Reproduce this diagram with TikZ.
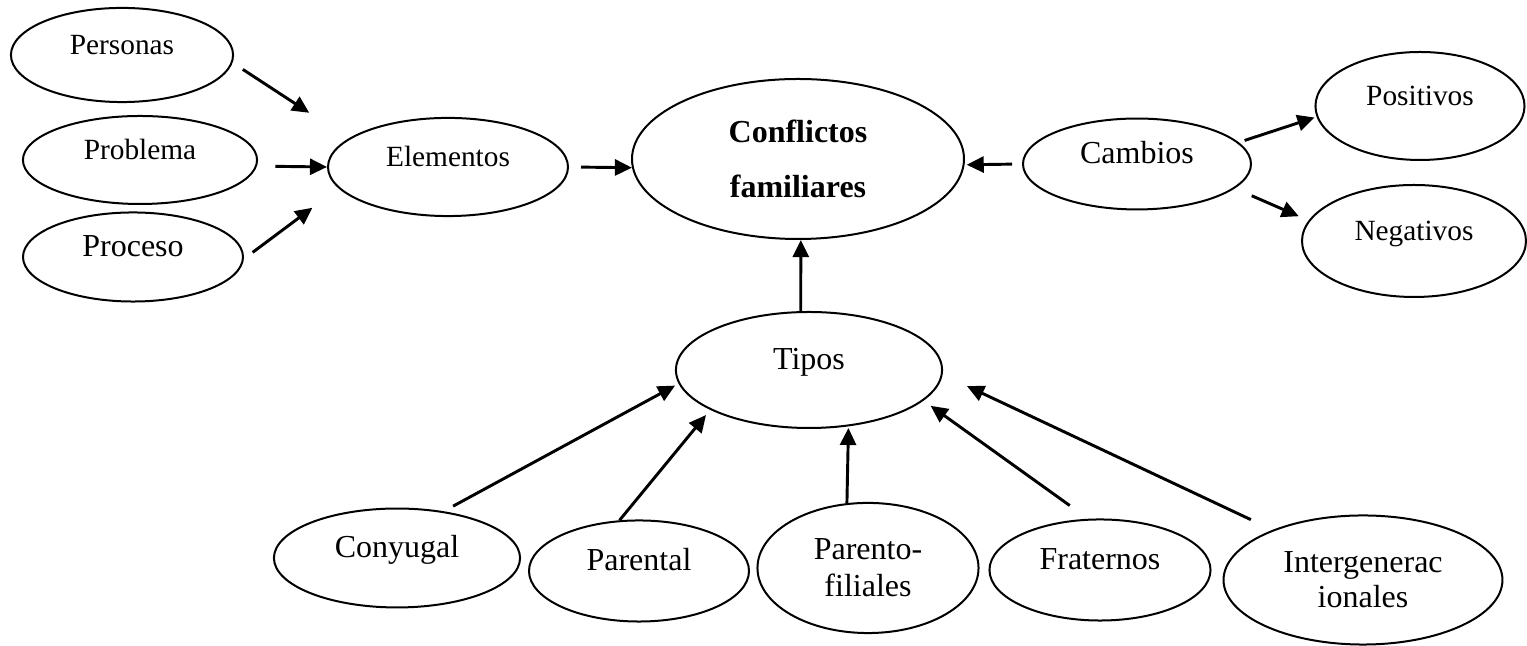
\documentclass[tikz,border=0pt]{standalone}
\usepackage{fontspec}
\setmainfont{Liberation Serif}
\usetikzlibrary{arrows.meta,shapes.geometric}

\begin{document}
\begin{tikzpicture}[
    x=0.375pt, y=-0.375pt,
    >={Triangle[length=6.4pt,width=6pt]},
    bubble/.style={ellipse, draw, line width=0.75pt, inner sep=0pt, font=\fontsize{12}{14}\selectfont},
    one line/.style={text height=0pt, text depth=0pt},
    small text/.style={font=\fontsize{11}{13}\selectfont},
    link/.style={->, line width=1.1pt},
]
\useasboundingbox (0,0) rectangle (1527,646);

% Elementos and its parts
\node[bubble, one line, small text, minimum width=83.3pt, minimum height=35.3pt] (personas) at (122,55) {Personas};
\node[bubble, one line, small text, minimum width=87.8pt, minimum height=33pt] (problema) at (140,160) {Problema};
\node[bubble, one line, minimum width=82.5pt, minimum height=33.4pt] (proceso) at (133,257) {Proceso};
\node[bubble, one line, small text, minimum width=90pt, minimum height=36.8pt] (elementos) at (448,167) {Elementos};

% Central node
\node[bubble, align=center, font=\bfseries\fontsize{12}{20.6}\selectfont, minimum width=124.5pt, minimum height=60pt] (conflictos) at (798,159) {Conflictos\\familiares};

% Cambios
\node[bubble, one line, minimum width=85.5pt, minimum height=34.1pt] (cambios) at (1137,164) {Cambios};
\node[bubble, one line, small text, minimum width=78.4pt, minimum height=40.5pt] (positivos) at (1420,106) {Positivos};
\node[bubble, one line, small text, minimum width=84pt, minimum height=42pt] (negativos) at (1414,241) {Negativos};

% Tipos
\node[bubble, one line, minimum width=99.8pt, minimum height=43.5pt] (tipos) at (809,370) {Tipos};
\node[bubble, one line, minimum width=92.3pt, minimum height=37.1pt] (conyugal) at (397,558) {Conyugal};
\node[bubble, one line, minimum width=82.5pt, minimum height=37.9pt] (parental) at (639,571) {Parental};
\node[bubble, align=center, font=\fontsize{12}{13.9}\selectfont, minimum width=82.9pt, minimum height=48.8pt] (parentofil) at (868,568) {Parento-\\filiales};
\node[bubble, one line, minimum width=82.9pt, minimum height=37.9pt] (fraternos) at (1100,570) {Fraternos};
\node[bubble, align=center, font=\fontsize{12}{13.1}\selectfont, minimum width=104.6pt, minimum height=48.4pt] (intergen) at (1363,580) {Intergenerac\\ionales};

% Arrows into Elementos
\draw[link, shorten <=4.6pt, shorten >=17.6pt] (personas.-4) -- (elementos.164);
\draw[link, shorten <=6.9pt] (problema.-3) -- (elementos.west);
\draw[link, shorten <=4.1pt, shorten >=12.2pt] (proceso.-1) -- (elementos.191);

% Arrows into Conflictos familiares
\draw[link, shorten <=4.5pt] (elementos.east) -- (conflictos.183);
\draw[link, shorten <=3.7pt, shorten >=0.8pt] (cambios.west) -- (conflictos.-2);
\draw[link] (tipos.98) -- (conflictos.-88);

% Arrows out of Cambios
\draw[link, shorten <=2.3pt, shorten >=0.8pt] (cambios.12) -- (positivos.186);
\draw[link, shorten <=6.9pt, shorten >=4pt] (cambios.-14) -- (negativos.169);

% Arrows into Tipos
\draw[link, shorten <=4pt, shorten >=1.5pt] (conyugal.45) -- (tipos.186);
\draw[link, shorten >=2.5pt] (parental.111) -- (tipos.202);
\draw[link, shorten >=0.6pt] (parentofil.108) -- (tipos.-55);
\draw[link, shorten <=8.5pt, shorten >=3.3pt] (fraternos.103) -- (tipos.-15);
\draw[link, shorten <=9pt, shorten >=10.1pt] (intergen.151) -- (tipos.-2);

\end{tikzpicture}
\end{document}
